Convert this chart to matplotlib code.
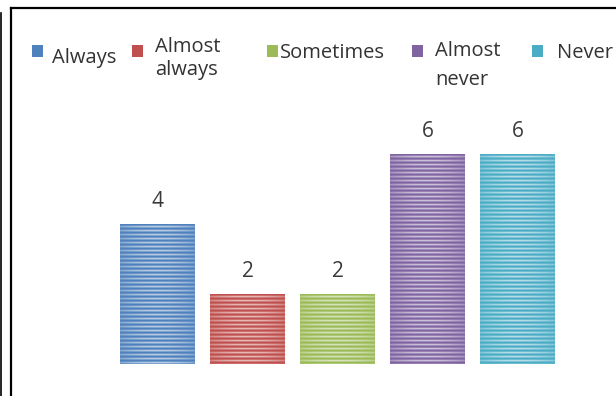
import numpy as np
import matplotlib
matplotlib.use("Agg")
import matplotlib.pyplot as plt
from matplotlib.patches import Rectangle
from matplotlib.lines import Line2D
from matplotlib.colors import to_rgb

# Survey answer counts
categories = ["Always", "Almost always", "Sometimes", "Almost never", "Never"]
legend_lines = [["Always"], ["Almost", "always"], ["Sometimes"], ["Almost", "never"], ["Never"]]
values = [4, 2, 2, 6, 6]
colors = ["#4F81BD", "#C0504D", "#9BBB59", "#8064A2", "#4BACC6"]

W, H = 616, 396
DPI = 100
fig = plt.figure(figsize=(W / DPI, H / DPI), dpi=DPI)
fig.patch.set_facecolor("white")


def fx(px):
    return px / W


def fy(py):
    return 1 - py / H


# plotting area (pixel geometry of the chart body)
ax_left, ax_right, ax_top, ax_bottom = 112.5, 562.5, 119, 364
ax = fig.add_axes([fx(ax_left), fy(ax_bottom), fx(ax_right - ax_left), (ax_bottom - ax_top) / H])
ax.set_xlim(-0.5, len(categories) - 0.5)
ax.set_ylim(0, 7)
ax.axis("off")

x = np.arange(len(categories))
bars = ax.bar(x, values, width=0.83, color=colors, edgecolor="none", zorder=1)


def stripe_texture(color, w_px, h_px):
    """Horizontal pinstripes, lighter towards the middle of the bar."""
    base = np.array(to_rgb(color))
    cols = np.linspace(-1, 1, w_px)
    profile = 0.5 + 0.5 * (1 - cols ** 2)            # brighter centre
    pattern = np.array([0.0, 0.25, 0.75, 0.35])      # one stripe period (rows)
    rows = pattern[np.arange(h_px) % len(pattern)]
    f = rows[:, None] * profile[None, :] * 0.8
    img = base[None, None, :] + (1 - base[None, None, :]) * f[:, :, None]
    return np.clip(img, 0, 1)


# overlay the striped fill on each bar
for bar, c in zip(bars, colors):
    x0, y0 = bar.get_x(), bar.get_y()
    bw, bh = bar.get_width(), bar.get_height()
    p0 = ax.transData.transform((x0, y0))
    p1 = ax.transData.transform((x0 + bw, y0 + bh))
    w_px = max(int(round(p1[0] - p0[0])), 2)
    h_px = max(int(round(p1[1] - p0[1])), 2)
    tex = stripe_texture(c, w_px, h_px)
    im = ax.imshow(tex, extent=(x0, x0 + bw, y0, y0 + bh), aspect="auto",
                   interpolation="nearest", zorder=2)
    im.set_clip_path(bar)

ax.set_xlim(-0.5, len(categories) - 0.5)
ax.set_ylim(0, 7)

# value labels above each bar
for xi, v in zip(x, values):
    ax.annotate(f"{v}", xy=(xi, v), xytext=(0, 16), textcoords="offset points",
                ha="center", va="center", fontsize=15, color="#3A3A3A",
                family="Open Sans")

# legend: coloured squares with (possibly wrapped) labels
legend_sq_x = [32, 132, 267, 412, 532]
legend_txt_x = [52, 155, 280, 435, 557]
legend_base = [[63], [52, 75], [58], [56, 85], [58]]
sq_w, sq_h = 11, 12
for c, sx, tx, lines, bases in zip(colors, legend_sq_x, legend_txt_x, legend_lines, legend_base):
    fig.patches.append(Rectangle((fx(sx), fy(45 + sq_h)), sq_w / W, sq_h / H,
                                 transform=fig.transFigure, facecolor=c,
                                 edgecolor="none"))
    for line, b in zip(lines, bases):
        fig.text(fx(tx), fy(b), line, ha="left", va="baseline", fontsize=14.5,
                 color="#333333", family="Open Sans")

# outer frame lines
frame_kw = dict(transform=fig.transFigure, color="black")
fig.lines.append(Line2D([fx(11), fx(11)], [fy(8), 0], lw=1.6, **frame_kw))
fig.lines.append(Line2D([fx(11), 1], [fy(8), fy(8)], lw=1.6, **frame_kw))
fig.lines.append(Line2D([fx(1), fx(1)], [fy(13), 0], lw=1.2, **frame_kw))

fig.savefig("out.png", dpi=DPI, facecolor="white")
